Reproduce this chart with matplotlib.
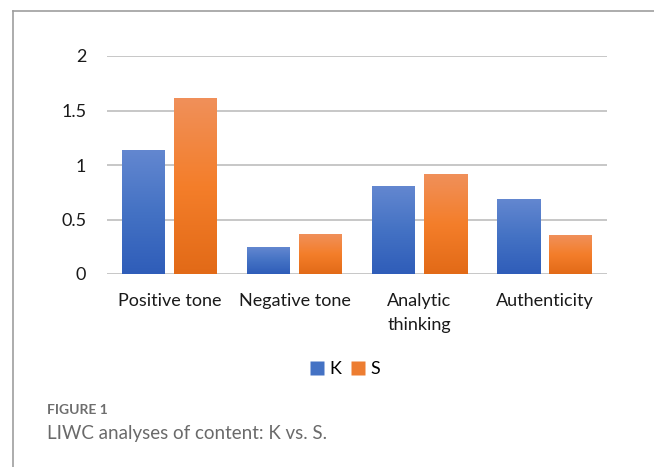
import numpy as np
import matplotlib
matplotlib.use('Agg')
import matplotlib.pyplot as plt
from matplotlib.colors import LinearSegmentedColormap
from matplotlib.lines import Line2D

categories = ['Positive tone', 'Negative tone', 'Analytic\nthinking', 'Authenticity']
k_vals = [1.135, 0.24, 0.80, 0.68]
s_vals = [1.61, 0.36, 0.91, 0.35]
yticks = [0, 0.5, 1, 1.5, 2]

W, H = 654, 467
plt.rcParams['font.family'] = ['Lato', 'DejaVu Sans']

fig = plt.figure(figsize=(W / 100, H / 100), dpi=100)
ax = fig.add_axes([107 / W, 1 - 274 / H, 500 / W, 218 / H])

blue_cmap = LinearSegmentedColormap.from_list('kblue', ['#2F5DB9', '#4472C4', '#6387D0'])
orange_cmap = LinearSegmentedColormap.from_list('sorange', ['#E26A17', '#F47E2A', '#F0905A'])
grad = np.linspace(0, 1, 256).reshape(-1, 1)

x = np.arange(len(categories))
width = 0.344
offset = 0.208

def gradient_bars(xs, vals, cmap):
    for xc, v in zip(xs, vals):
        ax.imshow(grad, cmap=cmap, origin='lower', aspect='auto',
                  extent=[xc - width / 2, xc + width / 2, 0, v], zorder=3)

gradient_bars(x - offset, k_vals, blue_cmap)
gradient_bars(x + offset, s_vals, orange_cmap)

ax.set_xlim(-0.5, len(categories) - 0.5)
ax.set_ylim(0, 2)
for t in yticks:
    ax.axhline(t, color='#BDBDBD', linewidth=1.2, zorder=1)
for sp in ax.spines.values():
    sp.set_visible(False)
ax.set_yticks(yticks)
ax.set_yticklabels(['0', '0.5', '1', '1.5', '2'], fontsize=13, color='#1a1a1a')
ax.set_xticks(x)
ax.set_xticklabels(categories, fontsize=13, color='#1a1a1a', linespacing=1.55, va='top')
ax.tick_params(axis='both', length=0)
ax.tick_params(axis='y', pad=15)
ax.tick_params(axis='x', pad=14)

handles = [Line2D([], [], marker='s', linestyle='none', markersize=9.5,
                  markerfacecolor='#4472C4', markeredgecolor='none', label='K'),
           Line2D([], [], marker='s', linestyle='none', markersize=9.5,
                  markerfacecolor='#ED7D31', markeredgecolor='none', label='S')]
fig.legend(handles=handles, loc='center', bbox_to_anchor=(345 / W, 1 - 369 / H),
           ncol=2, frameon=False, fontsize=13, handlelength=0.8,
           handletextpad=0.25, columnspacing=0.55, borderpad=0)

# frame around the figure panel
fig.add_artist(Line2D([13 / W, 1], [1 - 11 / H, 1 - 11 / H], color='#9E9E9E',
                      linewidth=1.2, transform=fig.transFigure))
fig.add_artist(Line2D([13 / W, 13 / W], [0, 1 - 11 / H], color='#9E9E9E',
                      linewidth=1.2, transform=fig.transFigure))

fig.text(47 / W, 1 - 410 / H, 'FIGURE 1', fontsize=10, fontweight='bold',
         color='#6E6E6E', va='center', ha='left')
fig.text(47 / W, 1 - 433 / H, 'LIWC analyses of content: K vs. S.', fontsize=13.5,
         color='#6A6A6A', va='center', ha='left')

fig.savefig('out.png', dpi=100)
